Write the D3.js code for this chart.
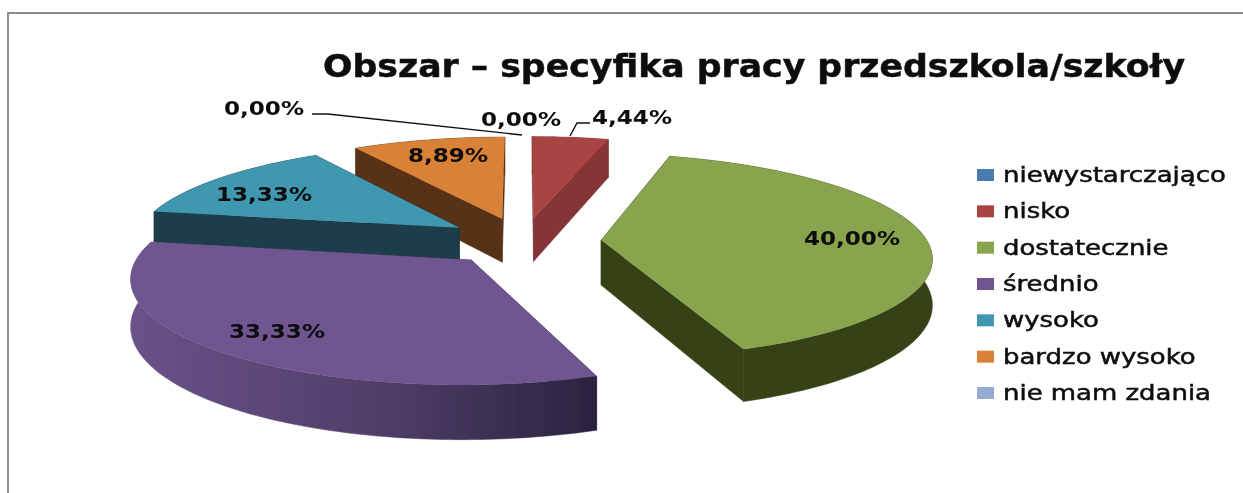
<!DOCTYPE html>
<html>
<head>
<meta charset="utf-8">
<script src="https://cdn.jsdelivr.net/npm/d3@7"></script>
<style>
  html, body { margin: 0; padding: 0; background: #fff; }
  svg { display: block; }
  text { fill: #0c0c0c; font-family: "DejaVu Sans", sans-serif; }
</style>
</head>
<body>
<svg width="1243" height="493"></svg>
<script>
var title = "Obszar – specyfika pracy przedszkola/szkoły";
var categories = ["niewystarczająco", "nisko", "dostatecznie", "średnio", "wysoko", "bardzo wysoko", "nie mam zdania"];
var values = [0, 4.44, 40, 33.33, 13.33, 8.89, 0];
var topColors = ["#4a7ab0", "#a84442", "#88a44e", "#6f5690", "#4097b0", "#da8139", "#95abd4"];
var wallColors = ["#2c4a6c", "#853535", "#364219", "#4a3a62", "#1b3c49", "#593316", "#5a6a88"];

// where each value label sits on screen, same order as values
var labelX = [521, 632, 852, 277, 264, 448, 264];
var labelY = [119, 117, 238, 331, 194, 155, 108];
// the two leader lines
var leaders = [
  [[570, 136], [577, 123], [590, 123]],
  [[312, 114], [328, 114], [522, 135]]
];

var svg = d3.select("svg");

// soft edge, the source picture is a scaled up bitmap
var defs = svg.append("defs");
defs.append("filter").attr("id", "soft")
  .append("feGaussianBlur").attr("stdDeviation", 0.45);

var grad = defs.append("linearGradient").attr("id", "purpleWall")
  .attr("gradientUnits", "userSpaceOnUse")
  .attr("x1", 130).attr("x2", 590).attr("y1", 0).attr("y2", 0);
grad.append("stop").attr("offset", 0).attr("stop-color", "#6a5288");
grad.append("stop").attr("offset", 0.55).attr("stop-color", "#4f3e68");
grad.append("stop").attr("offset", 1).attr("stop-color", "#2b2340");

// frame: only top and left are visible
svg.append("path")
  .attr("d", "M8,493V13H1243")
  .attr("fill", "none")
  .attr("stroke", "#8c8c8c")
  .attr("stroke-width", 2);

var chart = svg.append("g").attr("filter", "url(#soft)");

// flat perspective for the pie, Z goes to the back
var cx = 523, cy = 241, rx = 326, ry = 100, persp = 0.15, depth = 45, explode = 0.24;

function project(X, Z, h) {
  var s = 1 / (1 + persp * Z);
  return [cx + rx * X * s, cy - ry * Z * s + depth * h * s];
}

var pie = d3.pie().sort(null).value(function(d) { return d; });
var slices = pie(values);

var line = d3.line();

function slicePoints(d, h) {
  var mid = (d.startAngle + d.endAngle) / 2,
      ox = explode * Math.sin(mid),
      oz = explode * Math.cos(mid),
      n = Math.max(2, Math.ceil((d.endAngle - d.startAngle) / 0.02));
  var angle = d3.scaleLinear().domain([0, n]).range([d.startAngle, d.endAngle]);
  return d3.range(n + 1).map(function(i) {
    var a = angle(i);
    return project(ox + Math.sin(a), oz + Math.cos(a), h);
  });
}

function apex(d, h) {
  var mid = (d.startAngle + d.endAngle) / 2;
  return project(explode * Math.sin(mid), explode * Math.cos(mid), h);
}

// back to front
var drawOrder = [5, 1, 4, 2, 3];

drawOrder.forEach(function(i) {
  var d = slices[i],
      top = slicePoints(d, 0),
      bottom = slicePoints(d, 1),
      a0 = apex(d, 0),
      a1 = apex(d, 1),
      wall = i == 3 ? "url(#purpleWall)" : wallColors[i];
  var last = top.length - 1;

  var faces = [
    [a0, top[0], bottom[0], a1],
    [a0, top[last], bottom[last], a1],
    top.concat(bottom.slice().reverse())
  ];
  chart.selectAll(null)
    .data(faces)
    .enter().append("path")
      .attr("d", function(f) { return line(f) + "Z"; })
      .attr("fill", wall)
      .attr("stroke", wall)
      .attr("stroke-width", 0.5);

  chart.append("path")
    .attr("d", line([a0].concat(top)) + "Z")
    .attr("fill", topColors[i]);
});

// leader lines
chart.selectAll(null)
  .data(leaders)
  .enter().append("path")
    .attr("d", line)
    .attr("fill", "none")
    .attr("stroke", "#111")
    .attr("stroke-width", 1.4);

// value labels
var pl = d3.formatLocale({ decimal: ",", thousands: " ", grouping: [3], currency: ["", ""] });
var fmt = pl.format(".2f");

chart.selectAll(null)
  .data(values)
  .enter().append("text")
    .attr("x", function(d, i) { return labelX[i]; })
    .attr("y", function(d, i) { return labelY[i]; })
    .attr("dy", "0.36em")
    .attr("text-anchor", "middle")
    .attr("font-size", 19)
    .attr("font-weight", "bold")
    .attr("textLength", function(d) { return (fmt(d).length + 1) * 16; })
    .attr("lengthAdjust", "spacingAndGlyphs")
    .text(function(d) { return fmt(d) + "%"; });

// title
chart.append("text")
  .attr("x", 323)
  .attr("y", 77)
  .attr("font-size", 32)
  .attr("font-weight", "bold")
  .attr("font-family", "'Open Sans', sans-serif")
  .attr("stroke", "#0c0c0c")
  .attr("stroke-width", 0.5)
  .attr("textLength", 862)
  .attr("lengthAdjust", "spacingAndGlyphs")
  .text(title);

// legend
var legendY = d3.scalePoint().domain(categories).range([175, 393]);

var legend = chart.selectAll(null)
  .data(categories)
  .enter().append("g")
    .attr("transform", function(d) { return "translate(977," + legendY(d) + ")"; });

legend.append("rect")
  .attr("y", -6)
  .attr("width", 17)
  .attr("height", 12)
  .attr("fill", function(d, i) { return topColors[i]; });

// the source text is stretched sideways
legend.append("text")
  .attr("x", 26)
  .attr("dy", "0.33em")
  .attr("font-size", 21)
  .attr("stroke", "#0c0c0c")
  .attr("stroke-width", 0.5)
  .text(function(d) { return d; })
  .attr("lengthAdjust", "spacingAndGlyphs")
  .attr("textLength", function() { return this.getComputedTextLength() * 1.235; });
</script>
</body>
</html>
